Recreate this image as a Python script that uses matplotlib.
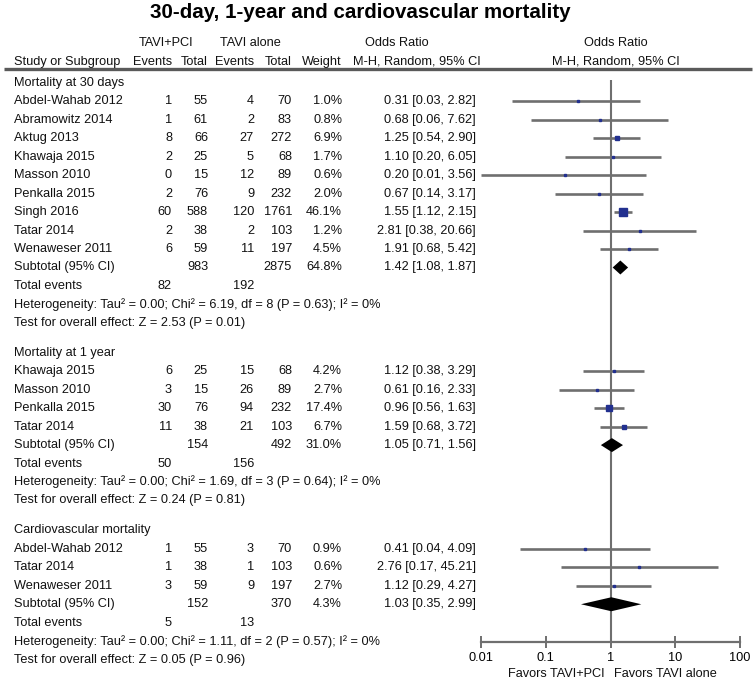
import numpy as np
import matplotlib
matplotlib.use("Agg")
import matplotlib.pyplot as plt

plt.rcParams["font.family"] = ["Liberation Sans", "DejaVu Sans"]

# ---- data ----
groups = ["Mortality at 30 days", "Mortality at 1 year", "Cardiovascular mortality"]
study = ["Abdel-Wahab 2012", "Abramowitz 2014", "Aktug 2013", "Khawaja 2015", "Masson 2010",
         "Penkalla 2015", "Singh 2016", "Tatar 2014", "Wenaweser 2011",
         "Khawaja 2015", "Masson 2010", "Penkalla 2015", "Tatar 2014",
         "Abdel-Wahab 2012", "Tatar 2014", "Wenaweser 2011"]
group_idx = [0] * 9 + [1] * 4 + [2] * 3
ev_pci = [1, 1, 8, 2, 0, 2, 60, 2, 6, 6, 3, 30, 11, 1, 1, 3]
n_pci = [55, 61, 66, 25, 15, 76, 588, 38, 59, 25, 15, 76, 38, 55, 38, 59]
ev_alone = [4, 2, 27, 5, 12, 9, 120, 2, 11, 15, 26, 94, 21, 3, 1, 9]
n_alone = [70, 83, 272, 68, 89, 232, 1761, 103, 197, 68, 89, 232, 103, 70, 103, 197]
weight = [1.0, 0.8, 6.9, 1.7, 0.6, 2.0, 46.1, 1.2, 4.5, 4.2, 2.7, 17.4, 6.7, 0.9, 0.6, 2.7]
or_est = [0.31, 0.68, 1.25, 1.10, 0.20, 0.67, 1.55, 2.81, 1.91, 1.12, 0.61, 0.96, 1.59, 0.41, 2.76, 1.12]
or_lo = [0.03, 0.06, 0.54, 0.20, 0.01, 0.14, 1.12, 0.38, 0.68, 0.38, 0.16, 0.56, 0.68, 0.04, 0.17, 0.29]
or_hi = [2.82, 7.62, 2.90, 6.05, 3.56, 3.17, 2.15, 20.66, 5.42, 3.29, 2.33, 1.63, 3.72, 4.09, 45.21, 4.27]

sub_n_pci = [983, 154, 152]
sub_n_alone = [2875, 492, 370]
sub_weight = [64.8, 31.0, 4.3]
sub_or = [1.42, 1.05, 1.03]
sub_lo = [1.08, 0.71, 0.35]
sub_hi = [1.87, 1.56, 2.99]
tot_ev_pci = [82, 50, 5]
tot_ev_alone = [192, 156, 13]
tau2 = [0.00, 0.00, 0.00]
chi2 = [6.19, 1.69, 1.11]
dof = [8, 3, 2]
het_p = [0.63, 0.64, 0.57]
i2 = [0, 0, 0]
z_val = [2.53, 0.24, 0.05]
z_p = [0.01, 0.81, 0.96]

W, H = 755, 680
FS = 9.2
NAVY = "#22308f"
GRAY = "#6f6f6f"

fig = plt.figure(figsize=(W / 100, H / 100), dpi=100)
ax = fig.add_axes([0, 0, 1, 1])
ax.set_xlim(0, W)
ax.set_ylim(H, 0)
ax.axis("off")

# forest panel: x 481..740 px, bottom axis at y=642 px
AX_Y = 642
fax = fig.add_axes([481 / W, (H - AX_Y) / H, (740 - 481) / W, AX_Y / H])
fax.set_xscale("log")
fax.set_xlim(0.01, 100)
fax.set_ylim(AX_Y, 0)
fax.patch.set_alpha(0)
for s in ["left", "right", "top"]:
    fax.spines[s].set_visible(False)
fax.spines["bottom"].set_color(GRAY)
fax.spines["bottom"].set_linewidth(1.6)
fax.set_yticks([])
fax.set_xticks([0.01, 0.1, 1, 10, 100])
fax.set_xticklabels(["0.01", "0.1", "1", "10", "100"])
fax.xaxis.set_minor_locator(matplotlib.ticker.NullLocator())
fax.tick_params(axis="x", direction="inout", length=8, width=1.4, color=GRAY,
                labelsize=FS, pad=3)

# column positions (right edges)
X_NAME = 14
X_EV1, X_N1, X_EV2, X_N2, X_W, X_CI = 172, 208, 254, 292, 342, 476


def txt(x, y, s, ha="right", **kw):
    ax.text(x, y, s, ha=ha, va="center", fontsize=FS, color="#111111", **kw)


# title and headers
ax.text(360, 13, "30-day, 1-year and cardiovascular mortality", ha="center", va="center",
        fontsize=14.8, fontweight="bold")
txt(166, 43, "TAVI+PCI", ha="center")
txt(250, 43, "TAVI alone", ha="center")
txt(397, 43, "Odds Ratio", ha="center")
txt(616, 43, "Odds Ratio", ha="center")
txt(X_NAME, 62, "Study or Subgroup", ha="left")
txt(X_EV1, 62, "Events")
txt(X_N1, 62, "Total")
txt(X_EV2, 62, "Events")
txt(X_N2, 62, "Total")
txt(X_W, 62, "Weight")
txt(X_CI + 5, 62, "M-H, Random, 95% CI")
txt(616, 62, "M-H, Random, 95% CI", ha="center")
ax.plot([4, 752], [69, 69], color="#5a5a5a", lw=2.4, solid_capstyle="butt")

# rows
step, gap = 18.45, 30.0
y = 83.0
for g in range(3):
    txt(X_NAME, y, groups[g], ha="left")
    y += step
    for i in [k for k, gi in enumerate(group_idx) if gi == g]:
        txt(X_NAME, y, study[i], ha="left")
        txt(X_EV1, y, str(ev_pci[i]))
        txt(X_N1, y, str(n_pci[i]))
        txt(X_EV2, y, str(ev_alone[i]))
        txt(X_N2, y, str(n_alone[i]))
        txt(X_W, y, f"{weight[i]:.1f}%")
        txt(X_CI, y, f"{or_est[i]:.2f} [{or_lo[i]:.2f}, {or_hi[i]:.2f}]")
        fax.hlines(y, or_lo[i], or_hi[i], color=GRAY, lw=1.9, zorder=2)
        side_px = max(2.6, 1.3 * np.sqrt(weight[i]))
        fax.plot(or_est[i], y, marker="s", ms=side_px * 0.72, color=NAVY, ls="none", zorder=3)
        y += step
    txt(X_NAME, y, "Subtotal (95% CI)", ha="left")
    txt(X_N1, y, str(sub_n_pci[g]))
    txt(X_N2, y, str(sub_n_alone[g]))
    txt(X_W, y, f"{sub_weight[g]:.1f}%")
    txt(X_CI, y, f"{sub_or[g]:.2f} [{sub_lo[g]:.2f}, {sub_hi[g]:.2f}]")
    hh = 7.0
    fax.fill([sub_lo[g], sub_or[g], sub_hi[g], sub_or[g]], [y, y - hh, y, y + hh],
             color="black", zorder=3, lw=0)
    y += step
    txt(X_NAME, y, "Total events", ha="left")
    txt(X_EV1, y, str(tot_ev_pci[g]))
    txt(X_EV2, y, str(tot_ev_alone[g]))
    y += step
    txt(X_NAME, y, f"Heterogeneity: Tau\u00b2 = {tau2[g]:.2f}; Chi\u00b2 = {chi2[g]:.2f}, "
                   f"df = {dof[g]} (P = {het_p[g]:.2f}); I\u00b2 = {i2[g]}%", ha="left")
    y += step
    txt(X_NAME, y, f"Test for overall effect: Z = {z_val[g]:.2f} (P = {z_p[g]:.2f})", ha="left")
    y += gap

# line of no effect
fax.vlines(1, 80, AX_Y, color=GRAY, lw=1.5, zorder=1)

txt(605, 674, "Favors TAVI+PCI")
txt(614, 674, "Favors TAVI alone", ha="left")

fig.savefig("out.png", dpi=100)
